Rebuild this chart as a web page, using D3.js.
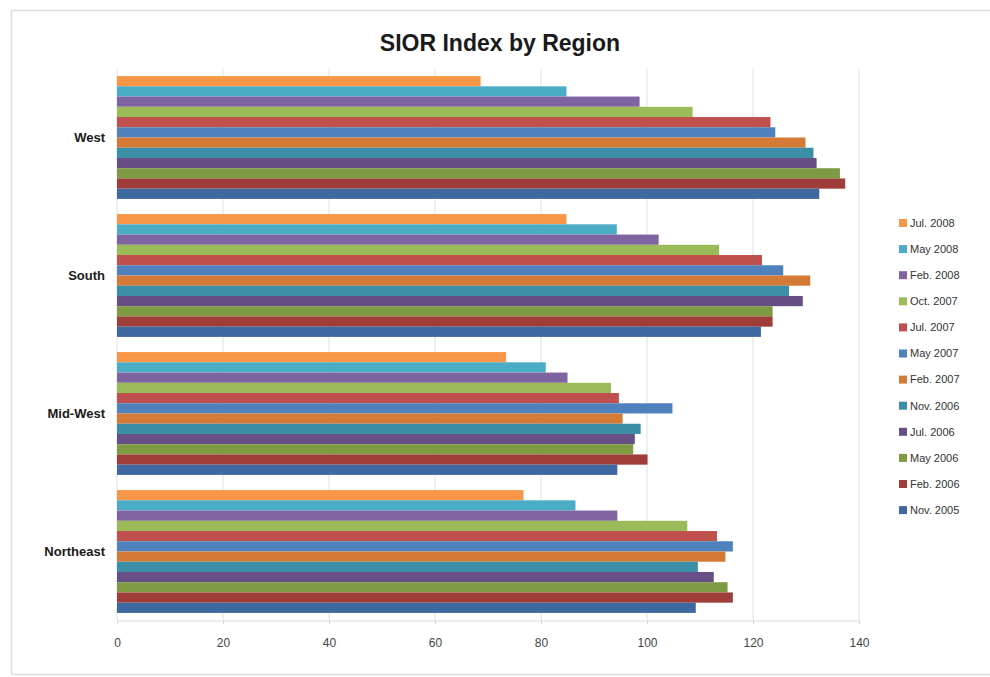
<!DOCTYPE html>
<html>
<head>
<meta charset="utf-8">
<script src="https://cdn.jsdelivr.net/npm/d3@7"></script>
<style>
  body { margin: 0; background: #fff; }
  svg { display: block; font-family: "Liberation Sans", Arial, sans-serif; }
</style>
</head>
<body>
<svg id="chart" width="990" height="677"></svg>
<script>
// regions top to bottom
const regions = ["West", "South", "Mid-West", "Northeast"];

// series, in legend order (top of each group first)
const periods = ["Jul. 2008", "May 2008", "Feb. 2008", "Oct. 2007", "Jul. 2007", "May 2007",
  "Feb. 2007", "Nov. 2006", "Jul. 2006", "May 2006", "Feb. 2006", "Nov. 2005"];

const colors = ["#F79646", "#4BACC6", "#8064A2", "#9BBB59", "#C0504D", "#4F81BD",
  "#D47A36", "#3A8FA6", "#674F85", "#7E9B44", "#9F3D3A", "#3D68A0"];

// values per period, one entry per region (West, South, Mid-West, Northeast)
const jul2008 = [68.6, 84.8, 73.4, 76.7];
const may2008 = [84.8, 94.3, 80.9, 86.5];
const feb2008 = [98.6, 102.2, 85.0, 94.4];
const oct2007 = [108.6, 113.6, 93.2, 107.6];
const jul2007 = [123.3, 121.7, 94.7, 113.2];
const may2007 = [124.2, 125.7, 104.8, 116.2];
const feb2007 = [129.9, 130.8, 95.4, 114.8];
const nov2006 = [131.4, 126.8, 98.8, 109.6];
const jul2006 = [132.0, 129.4, 97.7, 112.6];
const may2006 = [136.4, 123.7, 97.4, 115.2];
const feb2006 = [137.4, 123.7, 100.1, 116.2];
const nov2005 = [132.5, 121.5, 94.4, 109.2];

const xTicks = [0, 20, 40, 60, 80, 100, 120, 140];

const seriesValues = [jul2008, may2008, feb2008, oct2007, jul2007, may2007,
  feb2007, nov2006, jul2006, may2006, feb2006, nov2005];

const rows = [];
regions.forEach((r, ri) => {
  periods.forEach((p, pi) => {
    rows.push({ region: r, period: p, value: seriesValues[pi][ri], color: colors[pi] });
  });
});

const svg = d3.select("#chart");

// outer chart frame
svg.append("rect")
  .attr("x", 11.5).attr("y", 10.5)
  .attr("width", 1000).attr("height", 664)
  .attr("fill", "#fff")
  .attr("stroke", "#dcdfe2")
  .attr("stroke-width", 1.5);

const margin = { top: 68.5, left: 117, right: 130, bottom: 56.5 };
const plotW = 859 - margin.left;
const plotH = 620.5 - margin.top;

const g = svg.append("g").attr("transform", `translate(${margin.left},${margin.top})`);

const x = d3.scaleLinear().domain([0, 140]).range([0, plotW]);
const y0 = d3.scaleBand().domain(regions).range([0, plotH]).paddingInner(0.11).paddingOuter(0.055);
const y1 = d3.scaleBand().domain(periods).range([0, y0.bandwidth()]);

// gridlines
g.append("g")
  .selectAll("line")
  .data(xTicks)
  .join("line")
  .attr("x1", d => x(d)).attr("x2", d => x(d))
  .attr("y1", 0).attr("y2", plotH)
  .attr("stroke", "#dde1e6")
  .attr("stroke-width", 1);

// bars
g.append("g")
  .selectAll("rect")
  .data(rows)
  .join("rect")
  .attr("x", 0)
  .attr("y", d => y0(d.region) + y1(d.period))
  .attr("width", d => x(d.value))
  .attr("height", y1.bandwidth())
  .attr("fill", d => d.color);

// x axis
const xAxis = g.append("g")
  .attr("transform", `translate(0,${plotH})`)
  .call(d3.axisBottom(x).tickValues(xTicks).tickSize(4).tickPadding(14).tickSizeOuter(0));
xAxis.select(".domain").attr("stroke", "#d5d9de");
xAxis.selectAll(".tick line").attr("stroke", "#d5d9de");
xAxis.selectAll("text")
  .attr("fill", "#444")
  .style("font-size", "12px");

// y axis (category labels)
const yAxis = g.append("g")
  .call(d3.axisLeft(y0).tickSize(0).tickPadding(12));
yAxis.select(".domain").remove();
yAxis.selectAll("text")
  .attr("fill", "#1a1a1a")
  .style("font-size", "13px")
  .style("font-weight", "bold");

// title
svg.append("text")
  .attr("x", 500).attr("y", 51)
  .attr("text-anchor", "middle")
  .style("font-size", "23px")
  .style("font-weight", "bold")
  .attr("fill", "#1a1a1a")
  .text("SIOR Index by Region");

// legend
const legend = svg.append("g").attr("transform", "translate(899,223)");
const item = legend.selectAll("g")
  .data(periods)
  .join("g")
  .attr("transform", (d, i) => `translate(0,${i * 26.1})`);
item.append("rect")
  .attr("x", 0).attr("y", -4)
  .attr("width", 8).attr("height", 8)
  .attr("fill", (d, i) => colors[i]);
item.append("text")
  .attr("x", 11).attr("y", 0)
  .attr("dy", "0.35em")
  .style("font-size", "11px")
  .attr("fill", "#333")
  .text(d => d);
</script>
</body>
</html>
